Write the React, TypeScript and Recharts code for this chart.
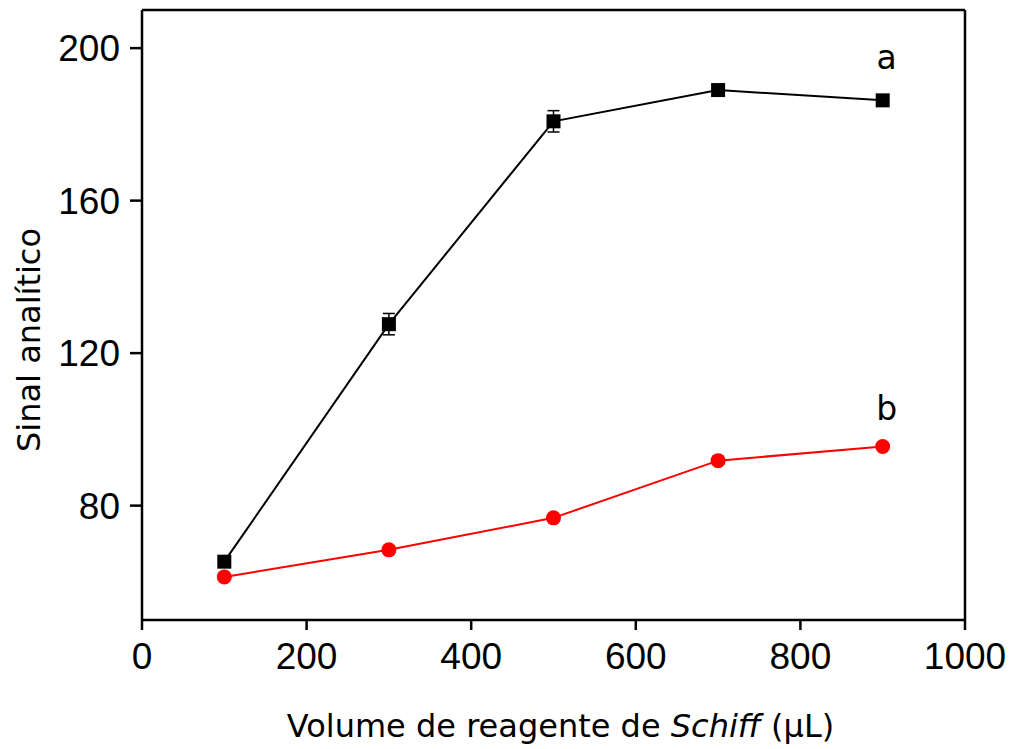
import React from 'react'
import {
  ComposedChart,
  Line,
  XAxis,
  YAxis,
  ErrorBar,
  ReferenceLine,
  LabelList,
  Label
} from 'recharts'

const volumes = [100, 300, 500, 700, 900]
const signalA = [65.3, 127.6, 180.8, 189.0, 186.3]
const errorA = [0, 2.8, 2.8, 0, 0]
const signalB = [61.3, 68.4, 76.8, 91.8, 95.5]
const xTicks = [0, 200, 400, 600, 800, 1000]
const yTicks = [80, 120, 160, 200]
const seriesNames = ['a', 'b']

const data = volumes.map((v, i) => ({
  v,
  a: signalA[i],
  errA: errorA[i],
  b: signalB[i]
}))

const tickFont = { fill: '#000', fontSize: 37, fontFamily: 'Liberation Sans, Arial, sans-serif' }
const titleFont = 'DejaVu Sans, Tahoma, sans-serif'

function SquareDot(props: any): React.JSX.Element {
  const { cx, cy, index } = props
  return <rect key={`sq-${index}`} x={cx - 7} y={cy - 7} width={14} height={14} fill="#000" />
}

function CircleDot(props: any): React.JSX.Element {
  const { cx, cy, index } = props
  return <circle key={`ci-${index}`} cx={cx} cy={cy} r={7.5} fill="#ff0000" />
}

function seriesTag(name: string, dy: number) {
  return function Tag(props: any): React.JSX.Element | null {
    const { x, y, index } = props
    if (index !== volumes.length - 1) return null
    return (
      <text x={x + 4} y={y + dy} textAnchor="middle" fontSize={33} fontFamily={titleFont} fill="#000">
        {name}
      </text>
    )
  }
}

export default function App(): React.JSX.Element {
  return (
    <div style={{ position: 'absolute', left: 0, top: 0, background: '#fff' }}>
      <ComposedChart
        width={1015}
        height={749}
        data={data}
        margin={{ top: 10, right: 50, bottom: 0, left: 0 }}
      >
        <XAxis
          dataKey="v"
          type="number"
          domain={[0, 1000]}
          ticks={xTicks}
          height={129}
          tick={tickFont}
          tickSize={10}
          tickMargin={13}
          axisLine={{ stroke: '#000', strokeWidth: 2.5 }}
          tickLine={{ stroke: '#000', strokeWidth: 2.5 }}
        >
          <Label
            content={(p: any) => {
              const vb = p.viewBox
              return (
                <text x={vb.x + vb.width / 2 + 7} y={737} textAnchor="middle" fontSize={32} fontFamily={titleFont} fill="#000">
                  Volume de reagente de <tspan fontStyle="italic">Schiff</tspan> (µL)
                </text>
              )
            }}
          />
        </XAxis>
        <YAxis
          type="number"
          domain={[50, 210]}
          ticks={yTicks}
          width={142}
          tick={tickFont}
          tickSize={12}
          tickMargin={10}
          axisLine={{ stroke: '#000', strokeWidth: 2.5 }}
          tickLine={{ stroke: '#000', strokeWidth: 2.5 }}
        >
          <Label
            content={(p: any) => {
              const vb = p.viewBox
              const cy = vb.y + vb.height / 2 + 25
              return (
                <text x={40} y={cy} transform={`rotate(-90, 40, ${cy})`} textAnchor="middle" fontSize={32} fontFamily={titleFont} fill="#000">
                  Sinal analítico
                </text>
              )
            }}
          />
        </YAxis>
        <ReferenceLine y={210} stroke="#000" strokeWidth={2.5} />
        <ReferenceLine x={1000} stroke="#000" strokeWidth={2.5} />
        <Line
          dataKey="a"
          stroke="#000"
          strokeWidth={2}
          dot={SquareDot}
          activeDot={false}
          isAnimationActive={false}
        >
          <ErrorBar dataKey="errA" width={6} stroke="#000" strokeWidth={1.5} direction="y" />
          <LabelList dataKey="a" content={seriesTag(seriesNames[0], -31)} />
        </Line>
        <Line
          dataKey="b"
          stroke="#ff0000"
          strokeWidth={2}
          dot={CircleDot}
          activeDot={false}
          isAnimationActive={false}
        >
          <LabelList dataKey="b" content={seriesTag(seriesNames[1], -27)} />
        </Line>
      </ComposedChart>
    </div>
  )
}
